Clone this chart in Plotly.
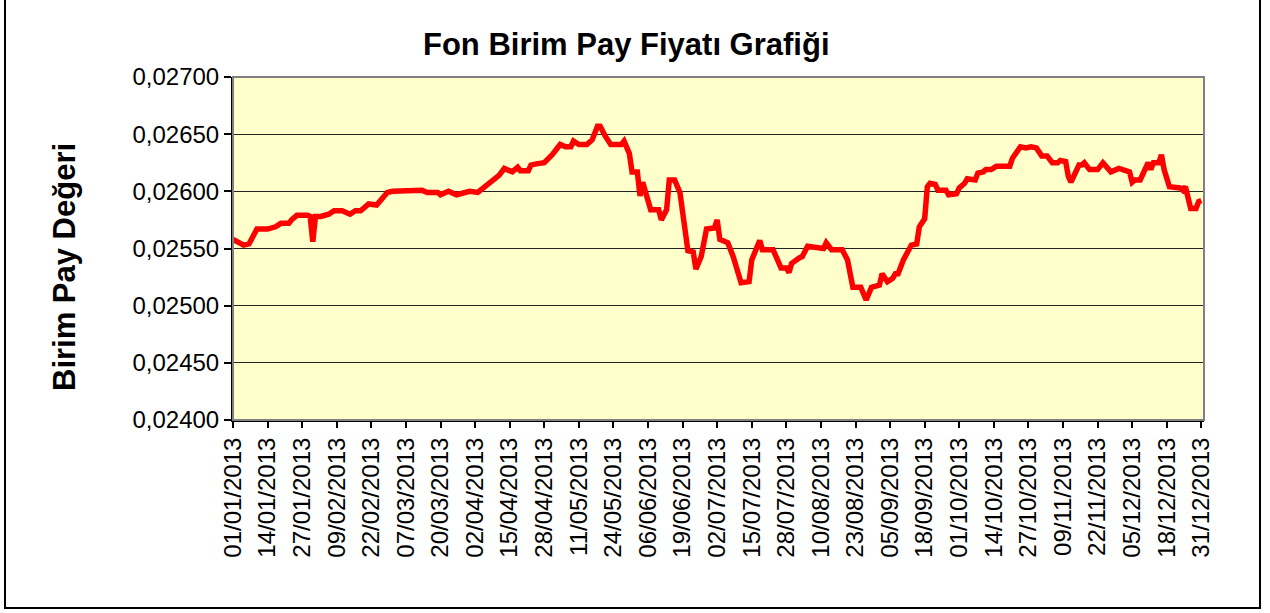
import pandas as pd
import plotly.graph_objects as go

# Day offsets from 01/01/2013 and fund unit price values
days_since_jan1 = [0, 2, 4, 6, 9, 13, 16, 18, 21, 22, 24, 28, 29, 30, 31, 33, 36, 38, 41, 44,
                   46, 48, 51, 54, 58, 60, 63, 64, 71, 73, 77, 78, 81, 84, 87, 89, 92, 95, 98, 100,
                   102, 105, 107, 108, 111, 112, 114, 117, 120, 123, 125, 127, 128, 130, 133, 135, 137, 138, 140, 142,
                   146, 147, 149, 150, 152, 153, 154, 155, 157, 160, 161, 163, 164, 166, 168, 171, 173, 174, 176, 178,
                   181, 182, 183, 186, 188, 191, 194, 195, 198, 199, 203, 206, 208, 209, 210, 213, 214, 216, 222, 223,
                   225, 229, 231, 233, 236, 238, 240, 243, 244, 246, 248, 249, 250, 252, 253, 255, 257, 258, 260, 261,
                   262, 264, 265, 268, 269, 272, 273, 275, 276, 279, 280, 282, 283, 285, 287, 292, 293, 296, 298, 300,
                   302, 304, 306, 308, 310, 311, 313, 314, 315, 317, 318, 319, 320, 322, 325, 327, 330, 333, 335, 337,
                   338, 339, 341, 343, 344, 345, 346, 348, 349, 350, 352, 356, 357, 358, 360, 362, 363, 364]
prices = [0.02558, 0.02555, 0.02553, 0.02554, 0.02567, 0.02567, 0.02569, 0.02572, 0.02572, 0.02575,
          0.02579, 0.02579, 0.02578, 0.02556, 0.02578, 0.02578, 0.02580, 0.02583, 0.02583, 0.02580,
          0.02583, 0.02583, 0.02589, 0.02588, 0.02599, 0.02600, 0.02600, 0.02601, 0.02601, 0.02599,
          0.02599, 0.02597, 0.02600, 0.02597, 0.02599, 0.02600, 0.02599, 0.02605, 0.02611, 0.02614,
          0.02620, 0.02617, 0.02621, 0.02618, 0.02618, 0.02623, 0.02624, 0.02625, 0.02632, 0.02641,
          0.02639, 0.02639, 0.02644, 0.02641, 0.02641, 0.02645, 0.02657, 0.02657, 0.02648, 0.02641,
          0.02641, 0.02644, 0.02633, 0.02617, 0.02617, 0.02596, 0.02608, 0.02599, 0.02584, 0.02584,
          0.02575, 0.02584, 0.02610, 0.02610, 0.02599, 0.02548, 0.02547, 0.02532, 0.02543, 0.02567,
          0.02568, 0.02575, 0.02558, 0.02555, 0.02543, 0.02520, 0.02521, 0.02540, 0.02557, 0.02549,
          0.02549, 0.02533, 0.02533, 0.02529, 0.02537, 0.02542, 0.02543, 0.02552, 0.02550, 0.02555,
          0.02549, 0.02549, 0.02540, 0.02516, 0.02516, 0.02505, 0.02516, 0.02518, 0.02528, 0.02521,
          0.02524, 0.02528, 0.02528, 0.02540, 0.02545, 0.02553, 0.02554, 0.02569, 0.02576, 0.02604,
          0.02607, 0.02606, 0.02601, 0.02601, 0.02597, 0.02598, 0.02603, 0.02607, 0.02611, 0.02610,
          0.02616, 0.02617, 0.02619, 0.02619, 0.02622, 0.02622, 0.02629, 0.02639, 0.02638, 0.02639,
          0.02638, 0.02631, 0.02631, 0.02625, 0.02625, 0.02627, 0.02626, 0.02613, 0.02608, 0.02620,
          0.02623, 0.02623, 0.02625, 0.02619, 0.02619, 0.02625, 0.02617, 0.02620, 0.02619, 0.02617,
          0.02608, 0.02610, 0.02610, 0.02622, 0.02625, 0.02619, 0.02625, 0.02625, 0.02632, 0.02619,
          0.02604, 0.02603, 0.02601, 0.02604, 0.02585, 0.02585, 0.02591, 0.02592]

tick_labels = ["01/01/2013", "14/01/2013", "27/01/2013", "09/02/2013", "22/02/2013", "07/03/2013",
               "20/03/2013", "02/04/2013", "15/04/2013", "28/04/2013", "11/05/2013", "24/05/2013",
               "06/06/2013", "19/06/2013", "02/07/2013", "15/07/2013", "28/07/2013", "10/08/2013",
               "23/08/2013", "05/09/2013", "18/09/2013", "01/10/2013", "14/10/2013", "27/10/2013",
               "09/11/2013", "22/11/2013", "05/12/2013", "18/12/2013", "31/12/2013"]

title_text = "Fon Birim Pay Fiyatı Grafiği"
y_title = "Birim Pay Değeri"

dates = pd.Timestamp("2013-01-01") + pd.to_timedelta(days_since_jan1, unit="D")
tick_vals = pd.to_datetime(tick_labels, format="%d/%m/%Y")

W, H = 1270, 613
L, R, T, B = 233, 66, 77, 193
pw, ph = W - L - R, H - T - B

def px_x(x):
    return (x - L) / pw

def px_y(y):
    return (H - B - y) / ph

FONT = "Liberation Sans, Arial, sans-serif"

fig = go.Figure()
fig.add_trace(go.Scatter(x=dates, y=prices, mode="lines",
                         line=dict(color="#FF0000", width=5.5), showlegend=False,
                         hoverinfo="x+y"))

fig.update_layout(
    width=W, height=H,
    margin=dict(l=L, r=R, t=T, b=B),
    paper_bgcolor="white",
    plot_bgcolor="#FFFFCC",
    separators=",.",
    font=dict(family=FONT, size=24, color="black"),
    showlegend=False,
)

fig.update_xaxes(
    type="date",
    range=["2013-01-01", "2014-01-01"],
    tickvals=tick_vals, ticktext=tick_labels,
    tickangle=-90,
    ticks="outside", ticklen=6, tickcolor="black", tickwidth=1.5,
    showgrid=False, zeroline=False,
    showline=True, linecolor="black", linewidth=2,
    tickfont=dict(family=FONT, size=24, color="black"),
)
fig.update_yaxes(
    range=[0.0240, 0.0270],
    dtick=0.0005, tick0=0.0240,
    tickformat=".5f",
    ticks="outside", ticklen=7, tickcolor="black", tickwidth=1.5,
    showgrid=True, gridcolor="#222222", gridwidth=1.2,
    zeroline=False,
    showline=True, linecolor="black", linewidth=2,
    tickfont=dict(family=FONT, size=24, color="black"),
)

# plot area border (gray)
fig.add_shape(type="rect", xref="paper", yref="paper", x0=0, x1=1, y0=0, y1=1,
              line=dict(color="#808080", width=2), layer="above")
# outer chart border (top edge lies outside the picture)
fig.add_shape(type="rect", xref="paper", yref="paper",
              x0=px_x(5), x1=px_x(1260), y0=px_y(608), y1=px_y(-20),
              line=dict(color="black", width=2))

fig.add_annotation(text="<b>" + title_text + "</b>", xref="paper", yref="paper",
                   x=px_x(626), y=px_y(45), showarrow=False,
                   xanchor="center", yanchor="middle",
                   font=dict(family=FONT, size=31, color="black"))
fig.add_annotation(text="<b>" + y_title + "</b>", xref="paper", yref="paper",
                   x=px_x(64), y=px_y(267), showarrow=False, textangle=-90,
                   xanchor="center", yanchor="middle",
                   font=dict(family=FONT, size=31, color="black"))

fig.write_html("out.html", config={"displayModeBar": False},
               post_script="document.body.style.margin='0';document.body.style.overflow='hidden';")
